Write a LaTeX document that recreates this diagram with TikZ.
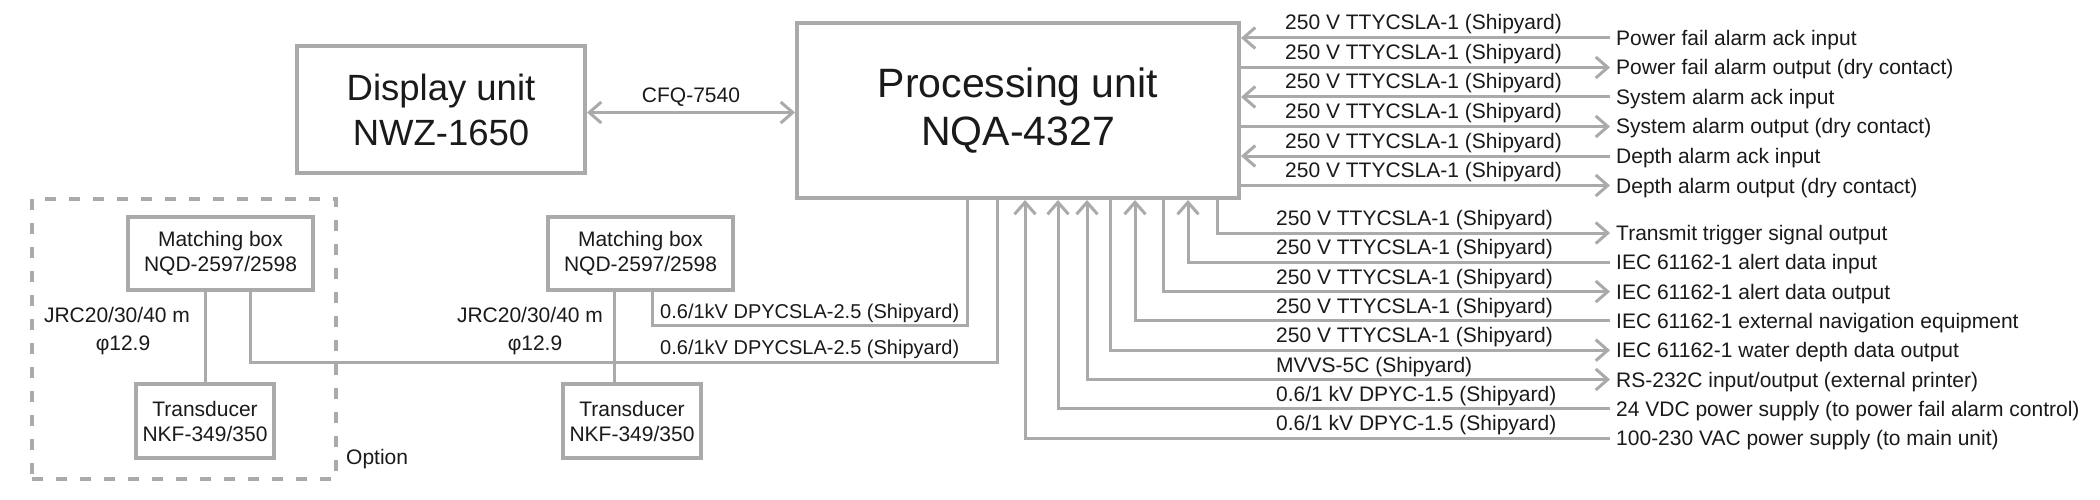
\documentclass[tikz,border=0pt]{standalone}
\usepackage{fontspec}
\setmainfont{Liberation Sans}
\usetikzlibrary{arrows.meta,calc}
\definecolor{ln}{HTML}{AAAAAA}
\definecolor{tx}{HTML}{1A1A1A}
\begin{document}
\begin{tikzpicture}[x=1pt,y=-1pt,
  >={Straight Barb[length=12pt,width=21pt]},
  box/.style={draw=ln, line width=4pt, inner sep=0pt, align=center, text=tx},
  lbl/.style={inner sep=0pt, text height=15pt, text depth=0pt, text=tx, font=\fontsize{21}{25}\selectfont},
  cablbl/.style={lbl, font=\fontsize{20}{24}\selectfont},
  wire/.style={draw=ln, line width=3pt},
  optbox/.style={draw=ln, line width=4pt, dash pattern=on 11pt off 13pt, inner sep=0pt},
]
\fill[white] (0,0) rectangle (2100,500);
\useasboundingbox (0,0) rectangle (2100,500);

% main units
\node[box, minimum width=288pt, minimum height=127pt, font=\fontsize{36.5}{45}\selectfont] (disp) at (441,109.5) {Display unit\\NWZ-1650};
\node[box, minimum width=442pt, minimum height=175pt, font=\fontsize{41}{48}\selectfont] (proc) at (1018,110.5) {Processing unit\\NQA-4327};

% display link
\coordinate (cfq) at (0,112.5);
\draw[wire,<->] (disp.east |- cfq) -- (proc.west |- cfq);
\node[lbl] (cfqlbl) at (691,95) {CFQ-7540};

% option frame and sensor units
\node[optbox, minimum width=304pt, minimum height=280pt] (opt) at (184,339) {};
\node[lbl, anchor=west] (optlbl) at (346,457) {Option};
\node[box, minimum width=185pt, minimum height=73pt, font=\fontsize{21}{25}\selectfont] (mb1) at (220.5,253.5) {Matching box\\NQD-2597/2598};
\node[box, minimum width=185pt, minimum height=73pt, font=\fontsize{21}{25}\selectfont] (mb2) at (640.5,253.5) {Matching box\\NQD-2597/2598};
\node[box, minimum width=138pt, minimum height=74pt, font=\fontsize{21}{25}\selectfont] (td1) at (205,421) {Transducer\\NKF-349/350};
\node[box, minimum width=138pt, minimum height=74pt, font=\fontsize{21}{25}\selectfont] (td2) at (632,421) {Transducer\\NKF-349/350};

\draw[wire] (td1.north |- mb1.south) -- (td1.north);
\coordinate (j2) at (614,0);
\draw[wire] (mb2.south -| j2) -- (td2.north -| j2);
\node[lbl] (jrc1) at (117,315) {JRC20/30/40 m};
\node[lbl] (phi1) at (123,343) {φ12.9};
\node[lbl] (jrc2) at (530,315) {JRC20/30/40 m};
\node[lbl] (phi2) at (535,343) {φ12.9};

% transducer cables
\coordinate (c1) at (250,362); \coordinate (c1e) at (997,362);
\draw[wire] (mb1.south -| c1) |- (c1e) -- (proc.south -| c1e);
\coordinate (c2) at (652,325); \coordinate (c2e) at (967,325);
\draw[wire] (mb2.south -| c2) |- (c2e) -- (proc.south -| c2e);
\node[cablbl, anchor=west] (cab2) at (660,311) {0.6/1kV DPYCSLA-2.5 (Shipyard)};
\node[cablbl, anchor=west] (cab1) at (660,347) {0.6/1kV DPYCSLA-2.5 (Shipyard)};

% right side, upper group
\node[lbl, anchor=west] (d1) at (1616,38) {Power fail alarm ack input};
\node[lbl, anchor=west] (d2) at (1616,67.5) {Power fail alarm output (dry contact)};
\node[lbl, anchor=west] (d3) at (1616,97) {System alarm ack input};
\node[lbl, anchor=west] (d4) at (1616,126.5) {System alarm output (dry contact)};
\node[lbl, anchor=west] (d5) at (1616,156) {Depth alarm ack input};
\node[lbl, anchor=west] (d6) at (1616,185.5) {Depth alarm output (dry contact)};
\draw[wire,<-] (proc.east |- d1.west) -- ([xshift=-6pt]d1.west);
\draw[wire,->] (proc.east |- d2.west) -- ([xshift=-6pt]d2.west);
\draw[wire,<-] (proc.east |- d3.west) -- ([xshift=-6pt]d3.west);
\draw[wire,->] (proc.east |- d4.west) -- ([xshift=-6pt]d4.west);
\draw[wire,<-] (proc.east |- d5.west) -- ([xshift=-6pt]d5.west);
\draw[wire,->] (proc.east |- d6.west) -- ([xshift=-6pt]d6.west);
\node[lbl, anchor=west] (l1) at (1285,22.5) {250 V TTYCSLA-1 (Shipyard)};
\node[lbl, anchor=west] (l2) at (1285,52) {250 V TTYCSLA-1 (Shipyard)};
\node[lbl, anchor=west] (l3) at (1285,81.5) {250 V TTYCSLA-1 (Shipyard)};
\node[lbl, anchor=west] (l4) at (1285,111) {250 V TTYCSLA-1 (Shipyard)};
\node[lbl, anchor=west] (l5) at (1285,140.5) {250 V TTYCSLA-1 (Shipyard)};
\node[lbl, anchor=west] (l6) at (1285,170) {250 V TTYCSLA-1 (Shipyard)};

% right side, lower group
\node[lbl, anchor=west] (e1) at (1616,233) {Transmit trigger signal output};
\node[lbl, anchor=west] (e2) at (1616,262.3) {IEC 61162-1 alert data input};
\node[lbl, anchor=west] (e3) at (1616,291.6) {IEC 61162-1 alert data output};
\node[lbl, anchor=west] (e4) at (1616,320.9) {IEC 61162-1 external navigation equipment};
\node[lbl, anchor=west] (e5) at (1616,350.2) {IEC 61162-1 water depth data output};
\node[lbl, anchor=west] (e6) at (1616,379.5) {RS-232C input/output (external printer)};
\node[lbl, anchor=west] (e7) at (1616,408.8) {24 VDC power supply (to power fail alarm control)};
\node[lbl, anchor=west] (e8) at (1616,438.1) {100-230 VAC power supply (to main unit)};
\coordinate (v1) at (1217.5,0);
\coordinate (v2) at (1188,0);
\coordinate (v3) at (1163,0);
\coordinate (v4) at (1135,0);
\coordinate (v5) at (1110.5,0);
\coordinate (v6) at (1087,0);
\coordinate (v7) at (1058,0);
\coordinate (v8) at (1025,0);
\draw[wire,->] (proc.south -| v1) |- ([xshift=-6pt]e1.west);
\draw[wire,<-] (proc.south -| v2) |- ([xshift=-6pt]e2.west);
\draw[wire,->] (proc.south -| v3) |- ([xshift=-6pt]e3.west);
\draw[wire,<-] (proc.south -| v4) |- ([xshift=-6pt]e4.west);
\draw[wire,->] (proc.south -| v5) |- ([xshift=-6pt]e5.west);
\draw[wire,<->] (proc.south -| v6) |- ([xshift=-6pt]e6.west);
\draw[wire,<-] (proc.south -| v7) |- ([xshift=-6pt]e7.west);
\draw[wire,<-] (proc.south -| v8) |- ([xshift=-6pt]e8.west);
\node[lbl, anchor=west] (m1) at (1276,218) {250 V TTYCSLA-1 (Shipyard)};
\node[lbl, anchor=west] (m2) at (1276,247.3) {250 V TTYCSLA-1 (Shipyard)};
\node[lbl, anchor=west] (m3) at (1276,276.6) {250 V TTYCSLA-1 (Shipyard)};
\node[lbl, anchor=west] (m4) at (1276,305.9) {250 V TTYCSLA-1 (Shipyard)};
\node[lbl, anchor=west] (m5) at (1276,335.2) {250 V TTYCSLA-1 (Shipyard)};
\node[lbl, anchor=west] (m6) at (1276,364.5) {MVVS-5C (Shipyard)};
\node[lbl, anchor=west] (m7) at (1276,393.8) {0.6/1 kV DPYC-1.5 (Shipyard)};
\node[lbl, anchor=west] (m8) at (1276,423.1) {0.6/1 kV DPYC-1.5 (Shipyard)};
\end{tikzpicture}
\end{document}
